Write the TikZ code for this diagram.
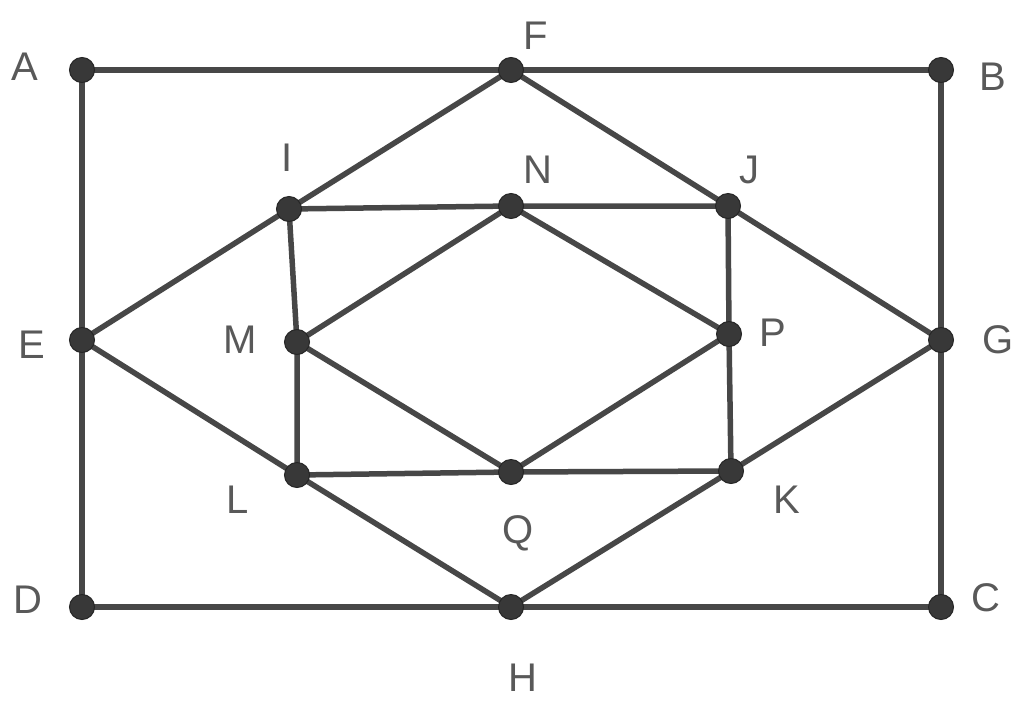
\documentclass[tikz,border=0pt]{standalone}
\usepackage{fontspec}
\setmainfont{Liberation Sans}
\begin{document}
\begin{tikzpicture}[x=1pt,y=-1pt,
  edge/.style={draw=black!72,line width=5.5pt},
  dot/.style={circle,fill=black!78,draw=black!85,line width=1pt,inner sep=0pt,minimum size=25pt},
  lbl/.style={text=black!65,font=\fontsize{40}{40}\selectfont,inner sep=0pt}]
\useasboundingbox (0,0) rectangle (1024,718);
\fill[white] (0,0) rectangle (1024,718);
\coordinate (A) at (82,70);
\coordinate (F) at (511,70);
\coordinate (B) at (941,70);
\coordinate (I) at (289,209);
\coordinate (N) at (511,206);
\coordinate (J) at (728,206);
\coordinate (E) at (82,340);
\coordinate (M) at (297,342);
\coordinate (P) at (729,334);
\coordinate (G) at (941,340);
\coordinate (L) at (297,475);
\coordinate (Q) at (511,472);
\coordinate (K) at (731,471);
\coordinate (D) at (82,607);
\coordinate (H) at (511,607);
\coordinate (C) at (941,607);
\draw[edge] (A) -- (F) -- (B) -- (G) -- (C) -- (H) -- (D) -- (E) -- (A);
\draw[edge] (E) -- (I) -- (F) -- (J) -- (G) -- (K) -- (H) -- (L) -- (E);
\draw[edge] (I) -- (N) -- (J) -- (P) -- (K) -- (Q) -- (L) -- (M) -- (I);
\draw[edge] (M) -- (N) -- (P) -- (Q) -- (M);
\foreach \p in {A,F,B,I,N,J,E,M,P,G,L,Q,K,D,H,C}
  \node[dot] (d\p) at (\p) {};
\node[lbl] (lA) at (25,67) {A};
\node[lbl] (lF) at (536,36) {F};
\node[lbl] (lB) at (993,77) {B};
\node[lbl] (lI) at (287,158) {I};
\node[lbl] (lN) at (538,170) {N};
\node[lbl] (lJ) at (749,170) {J};
\node[lbl] (lE) at (32,345) {E};
\node[lbl] (lM) at (240,340) {M};
\node[lbl] (lP) at (773,333) {P};
\node[lbl] (lG) at (998,340) {G};
\node[lbl] (lL) at (238,500) {L};
\node[lbl] (lQ) at (518,533) {Q};
\node[lbl] (lK) at (787,500) {K};
\node[lbl] (lD) at (28,600) {D};
\node[lbl] (lH) at (523,678) {H};
\node[lbl] (lC) at (986,598) {C};
\end{tikzpicture}
\end{document}
